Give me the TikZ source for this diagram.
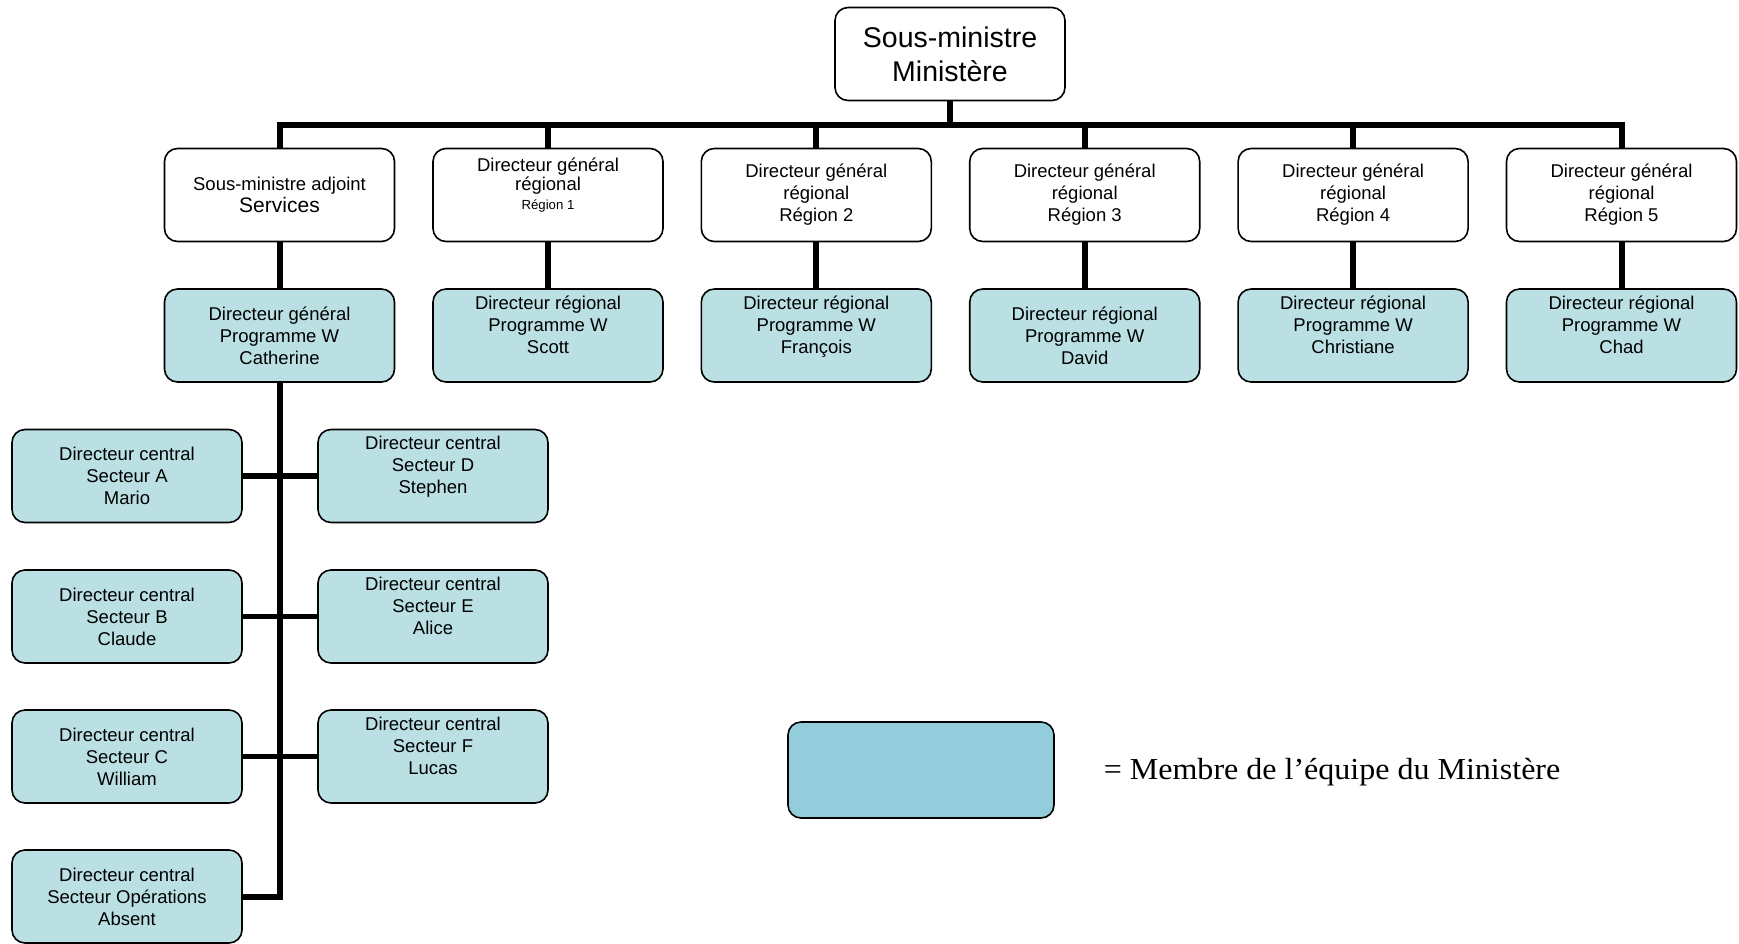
\documentclass[tikz,border=0pt]{standalone}
\usepackage{fontspec}
\usepackage{graphicx}
\setmainfont{Liberation Sans}
\newfontfamily\legendfont{Liberation Serif}
\usetikzlibrary{positioning}
\definecolor{membre}{RGB}{186,224,228}
\definecolor{legende}{RGB}{147,205,219}

\begin{document}
\begin{tikzpicture}[x=1pt, y=1pt,
                    every node/.style = {shape=rectangle, rounded corners=13pt,
                      draw, line width=1.6pt, align=center, inner sep=2pt,
                      minimum width=230pt, minimum height=93pt,
                      font=\fontsize{18.5}{22}\selectfont},
                    equipe/.style = {fill=membre},
                    legend/.style = {draw=none, minimum width=0pt, minimum height=0pt,
                      inner sep=0pt, font=\legendfont\fontsize{30.5}{34}\selectfont},
                    link/.style = {line width=6pt}]
  \useasboundingbox (0,0) rectangle (1739,-943);

  \node[font=\fontsize{28.5}{34}\selectfont] (sm) at (950,-54) {Sous-ministre\\Ministère};

  \node (sma) at (279.5,-195) {Sous-ministre adjoint\\{\fontsize{21}{24}\selectfont Services}};
  \node (dgr1) at (548,-195) {Directeur général\\[-3pt]régional\\[-3pt]{\fontsize{13.2}{16}\selectfont Région 1}\\ \mbox{}};
  \node (dgr2) at (816.3,-195) {Directeur général\\régional\\Région 2};
  \node (dgr3) at (1084.7,-195) {Directeur général\\régional\\Région 3};
  \node (dgr4) at (1353.1,-195) {Directeur général\\régional\\Région 4};
  \node (dgr5) at (1621.5,-195) {Directeur général\\régional\\Région 5};

  \node[equipe] (dg) at (279.5,-335.5) {Directeur général\\Programme W\\Catherine};
  \node[equipe] (dr1) at (548,-335.5) {Directeur régional\\Programme W\\Scott\\ \mbox{}};
  \node[equipe] (dr2) at (816.3,-335.5) {Directeur régional\\Programme W\\François\\ \mbox{}};
  \node[equipe] (dr3) at (1084.7,-335.5) {Directeur régional\\Programme W\\David};
  \node[equipe] (dr4) at (1353.1,-335.5) {Directeur régional\\Programme W\\Christiane\\ \mbox{}};
  \node[equipe] (dr5) at (1621.5,-335.5) {Directeur régional\\Programme W\\Chad\\ \mbox{}};

  \node[equipe] (dcA) at (127,-476) {Directeur central\\Secteur A\\Mario};
  \node[equipe] (dcB) at (127,-616.5) {Directeur central\\Secteur B\\Claude};
  \node[equipe] (dcC) at (127,-756.5) {Directeur central\\Secteur C\\William};
  \node[equipe] (dcO) at (127,-896.5) {Directeur central\\Secteur Opérations\\Absent};
  \node[equipe] (dcD) at (433,-476) {Directeur central\\Secteur D\\Stephen\\ \mbox{}};
  \node[equipe] (dcE) at (433,-616.5) {Directeur central\\Secteur E\\Alice\\ \mbox{}};
  \node[equipe] (dcF) at (433,-756.5) {Directeur central\\Secteur F\\Lucas\\ \mbox{}};

  \node[fill=legende, minimum width=266pt, minimum height=96pt] (cle) at (921,-770) {};
  \node[legend, anchor=base west] (texte) at (1103,-779)
    {\scalebox{1.05}[1]{= Membre de l’équipe du Ministère}};

  \coordinate (bus) at (950,-125);
  \draw[link] (sm.south) -- (bus);
  \draw[link] (sma.north) |- (bus) -| (dgr5.north);
  \foreach \n in {dgr1,dgr2,dgr3,dgr4}
    \draw[link] (\n.north) -- (\n.north |- bus);
  \foreach \a/\b in {sma/dg,dgr1/dr1,dgr2/dr2,dgr3/dr3,dgr4/dr4,dgr5/dr5}
    \draw[link] (\a.south) -- (\b.north);
  \draw[link] (dg.south) |- (dcO.east);
  \foreach \a/\b in {dcA/dcD,dcB/dcE,dcC/dcF}
    \draw[link, line width=5.5pt] (\a.east) -- (\b.west);
\end{tikzpicture}
\end{document}
